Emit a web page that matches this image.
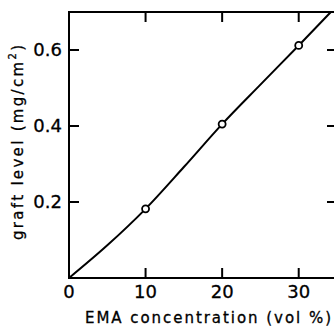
<!DOCTYPE html>
<html>
<head>
<meta charset="utf-8">
<script src="https://cdn.jsdelivr.net/npm/d3@7"></script>
<style>
  body { margin: 0; background: #fff; }
  text { font-family: "DejaVu Sans", sans-serif; fill: #000; stroke: #000; stroke-width: 0.3; }
</style>
</head>
<body>
<div class="canvas"></div>
<script>
// data
const pointX = [10, 20, 30];
const pointY = [0.182, 0.405, 0.612];
const curveX = [0, 5, 10, 15, 20, 25, 30, 34.2];
const curveY = [0, 0.086, 0.182, 0.292, 0.405, 0.509, 0.612, 0.70];
const xTicks = [0, 10, 20, 30];
const yTicks = [0.2, 0.4, 0.6];

const dims = { width: 334, height: 329 };
const margin = { left: 69, top: 12, right: -3, bottom: 51 };

const svg = d3
  .select(".canvas")
  .append("svg")
  .attr("width", dims.width)
  .attr("height", dims.height);

const x = d3
  .scaleLinear()
  .domain([0, 35])
  .range([margin.left, dims.width - margin.right]);

const y = d3
  .scaleLinear()
  .domain([0, 0.7])
  .range([dims.height - margin.bottom, margin.top]);

const x0 = x(0), x1 = x(35), y0 = y(0), y1 = y(0.7);

// frame (right edge falls just outside the picture)
svg
  .append("rect")
  .attr("x", x0)
  .attr("y", y1)
  .attr("width", x1 - x0)
  .attr("height", y0 - y1)
  .attr("fill", "none")
  .attr("stroke", "#000")
  .attr("stroke-width", 2);

// inward ticks on all sides
const tl = 10;
const ticks = svg.append("g").attr("stroke", "#000").attr("stroke-width", 2);
xTicks.filter((d) => d > 0).forEach((d) => {
  ticks.append("line").attr("x1", x(d)).attr("x2", x(d)).attr("y1", y0).attr("y2", y0 - tl);
  ticks.append("line").attr("x1", x(d)).attr("x2", x(d)).attr("y1", y1).attr("y2", y1 + tl);
});
yTicks.forEach((d) => {
  ticks.append("line").attr("x1", x0).attr("x2", x0 + tl).attr("y1", y(d)).attr("y2", y(d));
  ticks.append("line").attr("x1", x1).attr("x2", x1 - tl).attr("y1", y(d)).attr("y2", y(d));
});

// tick labels
svg
  .append("g")
  .selectAll("text")
  .data(xTicks)
  .enter()
  .append("text")
  .attr("x", (d) => x(d))
  .attr("y", y0 + 20)
  .attr("text-anchor", "middle")
  .attr("font-size", 18)
  .text((d) => d);

svg
  .append("g")
  .selectAll("text")
  .data(yTicks)
  .enter()
  .append("text")
  .attr("x", x0 - 7)
  .attr("y", (d) => y(d) + 6)
  .attr("text-anchor", "end")
  .attr("font-size", 18)
  .text((d) => d.toFixed(1));

// axis titles
svg
  .append("text")
  .attr("x", 85)
  .attr("y", 323)
  .attr("font-size", 15)
  .attr("textLength", 246)
  .attr("lengthAdjust", "spacing")
  .text("EMA concentration  (vol %)");

const yt = svg
  .append("text")
  .attr("transform", "translate(23, 240) rotate(-90)")
  .attr("font-size", 15)
  .attr("textLength", 195)
  .attr("lengthAdjust", "spacing");
yt.append("tspan").text("graft  level  (mg/cm");
yt.append("tspan").attr("font-size", 10).attr("dy", -7).text("2");
yt.append("tspan").attr("dy", 7).text(")");

// curve
const line = d3
  .line()
  .x((d, i) => x(curveX[i]))
  .y((d) => y(d))
  .curve(d3.curveMonotoneX);

svg
  .append("path")
  .attr("d", line(curveY))
  .attr("fill", "none")
  .attr("stroke", "#000")
  .attr("stroke-width", 2);

// open circles
svg
  .append("g")
  .selectAll("circle")
  .data(pointY)
  .enter()
  .append("circle")
  .attr("cx", (d, i) => x(pointX[i]))
  .attr("cy", (d) => y(d))
  .attr("r", 3.5)
  .attr("fill", "#fff")
  .attr("stroke", "#000")
  .attr("stroke-width", 1.8);
</script>
</body>
</html>
